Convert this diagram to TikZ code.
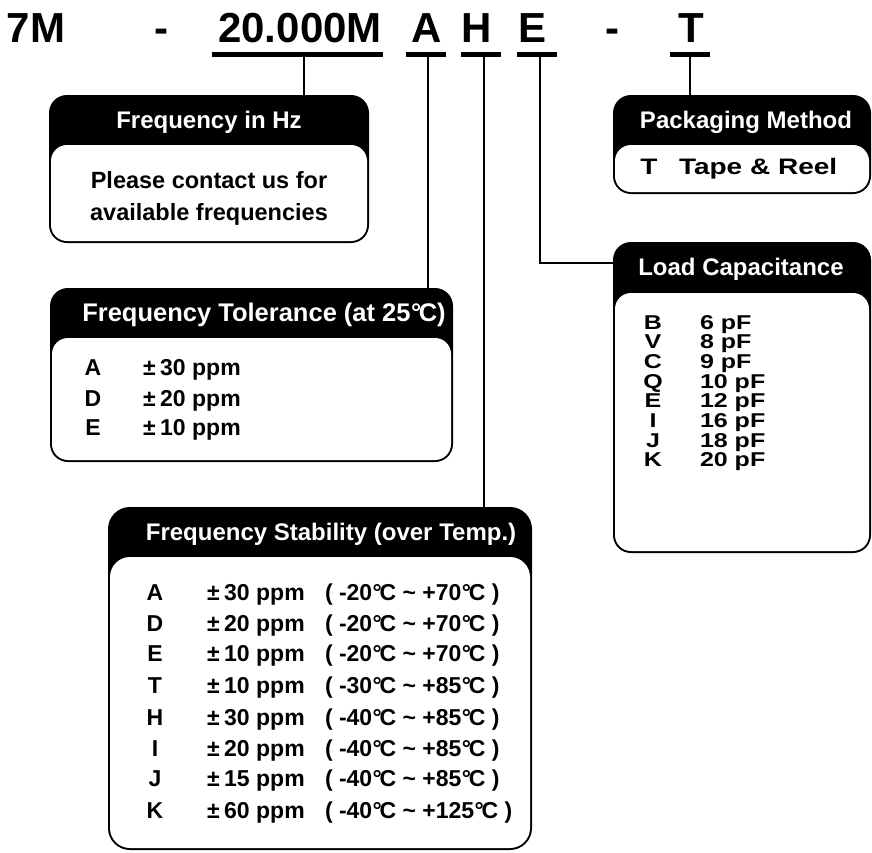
\documentclass[tikz,border=0pt]{standalone}
\usepackage{fontspec}
\setmainfont{Liberation Sans}
\newcommand\dgc{\kern0.02em°\kern-0.1em C}
\newcommand\pmk{±\kern0.2em}
\newcommand\fs[1]{\fontsize{#1}{#1}\selectfont\bfseries}
\tikzset{
  x=1pt, y=-1pt,
  every node/.style={inner sep=0pt, outer sep=0pt},
  titletxt/.style={font=\fs{42}, anchor=base},
  uline/.style={fill=black, minimum height=5pt, anchor=north west},
  conn/.style={line width=2pt},
  headtxt/.style={font=\fs{24}, text=white, anchor=base},
  bodytxt/.style={font=\fs{23.5}, anchor=base},
  rowkey/.style={font=\fs{23}, anchor=base},
  rowval/.style={font=\fs{23}, anchor=base west},
  lckey/.style={font=\fs{25}, anchor=base, yscale=0.8},
  lcval/.style={font=\fs{25}, anchor=base west, yscale=0.8},
  pkkey/.style={font=\fs{28}, anchor=base, yscale=0.8},
  pkval/.style={font=\fs{28}, anchor=base west, yscale=0.8},
}
% name, x1, y1, x2, y2, yheader, radius
\newcommand\partbox[7]{%
  \node[fill=black, rounded corners=#7pt, minimum width=#4-#2, minimum height=#5-#3, anchor=north west] (#1) at (#2,#3) {};
  \node[fill=white, rounded corners=#7pt-2pt, minimum width=#4-#2-4, minimum height=#5-#6-2, anchor=north west] (#1w) at (#2+2,#6) {};
}
\begin{document}
\begin{tikzpicture}
\useasboundingbox (0,0) rectangle (872,852);
% title
\node[titletxt] (t7m) at (36,42) {7M};
\node[titletxt] (td1) at (161,42) {-};
\node[titletxt] (tf) at (300,42) {20.000M};
\node[titletxt] (ta) at (427,42) {A};
\node[titletxt] (th) at (477,42) {H};
\node[titletxt] (te) at (532,42) {E};
\node[titletxt] (td2) at (612,42) {-};
\node[titletxt] (tt) at (691,42) {T};
\node[uline, minimum width=171] (uf) at (212,52) {};
\node[uline, minimum width=40] (ua) at (406,52) {};
\node[uline, minimum width=40] (uh) at (461,52) {};
\node[uline, minimum width=40] (ue) at (517,52) {};
\node[uline, minimum width=40] (ut) at (670,52) {};
% boxes
\partbox{bf}{49}{95}{369}{243}{145}{18}
\partbox{bp}{613}{95}{871}{194}{145}{18}
\partbox{ba}{50}{288}{453}{462}{338}{18}
\partbox{bh}{108}{507}{532}{850}{557}{22}
\partbox{be}{613}{242}{871}{553}{293}{18}
% connectors
\draw[conn] ([xshift=6.5pt]uf.south) -- ([xshift=6.5pt]uf.south |- bf.north);
\draw[conn] ([xshift=2pt]ua.south) -- ([xshift=2pt]ua.south |- ba.north);
\draw[conn] ([xshift=3pt]uh.south) -- ([xshift=3pt]uh.south |- bh.north);
\coordinate (ek) at (540,263);
\draw[conn] ([xshift=3pt]ue.south) -- (ek) -- (ek -| be.west);
\draw[conn] (ut.south) -- (ut.south |- bp.north);
% box 1
\node[headtxt] (hf) at (209,128.6) {Frequency in Hz};
\node[bodytxt] (bf1) at (209,188.6) {Please contact us for};
\node[bodytxt] (bf2) at (209,220.6) {available frequencies};
% box packaging
\node[headtxt] (hp) at (746,128.6) {Packaging Method};
\node[pkkey] (kp) at (649,174) {T};
\node[pkval] (vp) at (679,174) {Tape \& Reel};
% box tolerance
\node[headtxt, font=\fs{25.5}] (ha) at (264,321) {Frequency Tolerance (at 25\dgc)};
\foreach \k/\v/\y [count=\i] in {A/30/375, D/20/406, E/10/435}{
  \node[rowkey] (ka\i) at (93,\y) {\k};
  \node[rowval] (va\i) at (143,\y) {\pmk\v\ ppm};
}
% box stability
\node[headtxt] (hh) at (331,540.6) {Frequency Stability (over Temp.)};
\foreach \k/\v/\lo/\hi/\y [count=\i] in {A/30/-20/+70/600, D/20/-20/+70/631, E/10/-20/+70/661, T/10/-30/+85/693, H/30/-40/+85/725, I/20/-40/+85/756, J/15/-40/+85/786, K/60/-40/+125/818}{
  \node[rowkey] (kh\i) at (155,\y) {\k};
  \node[rowval] (vh\i) at (207,\y) {\pmk\v\ ppm};
  \node[rowval] (rh\i) at (325,\y) {(\ \lo\dgc\ \textasciitilde\ \hi\dgc\ )};
}
% box load capacitance
\node[headtxt] (he) at (741,275.6) {Load Capacitance};
\foreach \k/\v [count=\i] in {B/6, V/8, C/9, Q/10, E/12, I/16, J/18, K/20}{
  \node[lckey] (ke\i) at (653,329+19.7*\i-19.7) {\k};
  \node[lcval] (ve\i) at (700,329+19.7*\i-19.7) {\v\ pF};
}
\end{tikzpicture}
\end{document}
